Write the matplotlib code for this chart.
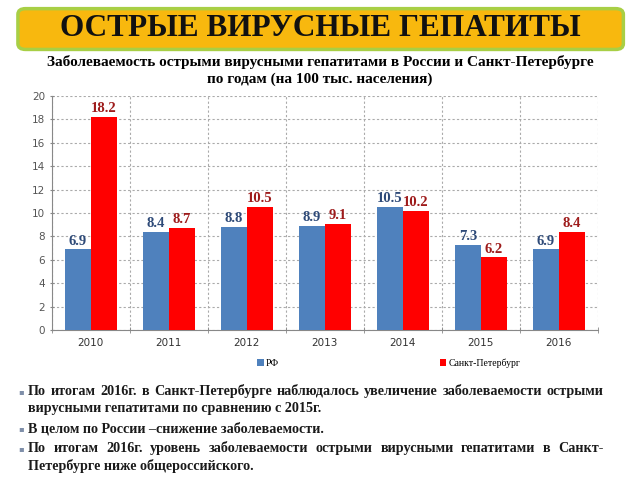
import matplotlib.pyplot as plt
import numpy as np
from matplotlib.patches import FancyBboxPatch

years = ["2010", "2011", "2012", "2013", "2014", "2015", "2016"]
rf = [6.9, 8.4, 8.8, 8.9, 10.5, 7.3, 6.9]
spb = [18.2, 8.7, 10.5, 9.1, 10.2, 6.2, 8.4]
labels = ["РФ", "Санкт-Петербург"]

title = "ОСТРЫЕ ВИРУСНЫЕ ГЕПАТИТЫ"
subtitle = ("Заболеваемость острыми вирусными гепатитами в России и Санкт-Петербурге\n"
            "по годам (на 100 тыс. населения)")
bullets = [
    ("По итогам 2016г. в Санкт-Петербурге наблюдалось увеличение заболеваемости острыми",
     "вирусными гепатитами по сравнению с 2015г."),
    ("В целом по России –снижение заболеваемости.",),
    ("По итогам 2016г. уровень заболеваемости острыми вирусными гепатитами в Санкт-",
     "Петербурге ниже общероссийского."),
]

blue = "#4F81BD"
red = "#FF0000"
serif = "Liberation Serif"

fig = plt.figure(figsize=(6.4, 4.8), dpi=100)

# title box
box = FancyBboxPatch((0.028, 0.897), 0.946, 0.085, boxstyle="round,pad=0,rounding_size=0.012",
                     transform=fig.transFigure, facecolor="#F8B80E", edgecolor="#A8CF45",
                     linewidth=2.5)
fig.patches.append(box)
fig.text(0.5, 0.94, title, ha="center", va="center", fontsize=22.5, fontweight="bold",
         family=serif, color="#111111")
fig.text(0.5, 0.853, subtitle, ha="center", va="center", fontsize=11, fontweight="bold",
         family=serif, linespacing=1.35)

ax = fig.add_axes([0.081, 0.3125, 0.853, 0.4875])
x = np.arange(len(years))
w = 1 / 3
ax.bar(x - w / 2, rf, w, color=blue, label=labels[0], zorder=3)
ax.bar(x + w / 2, spb, w, color=red, label=labels[1], zorder=3)

for xi, v in zip(x, rf):
    ax.text(xi - w / 2, v + 0.15, f"{v:.1f}", ha="center", va="bottom", fontsize=10.5,
            fontweight="bold", family=serif, color="#2E4A78")
for xi, v in zip(x, spb):
    ax.text(xi + w / 2, v + 0.15, f"{v:.1f}", ha="center", va="bottom", fontsize=10.5,
            fontweight="bold", family=serif, color="#9E1B1B")

ax.set_xlim(-0.5, len(years) - 0.5)
ax.set_ylim(0, 20)
ax.set_yticks(range(0, 21, 2))
ax.set_xticks(x)
ax.set_xticklabels(years)
ax.set_xticks(np.arange(-0.5, len(years), 1), minor=True)
ax.tick_params(axis="x", which="major", length=0, labelsize=7.5, colors="#333333", pad=6)
ax.tick_params(axis="x", which="minor", length=4, direction="inout", color="#888888")
ax.tick_params(axis="y", length=3, direction="inout", labelsize=7.5, colors="#555555",
               color="#888888")
ax.grid(axis="y", linestyle=(0, (2, 2)), color="#AAAAAA", linewidth=0.8, zorder=0)
ax.grid(axis="x", which="minor", linestyle=(0, (2, 2)), color="#AAAAAA", linewidth=0.8, zorder=0)
for s in ["top", "right"]:
    ax.spines[s].set_visible(False)
for s in ["left", "bottom"]:
    ax.spines[s].set_color("#888888")

ax.legend(loc="upper center", bbox_to_anchor=(0.617, -0.085), ncol=2, frameon=False,
          prop={"family": serif, "size": 7}, handlelength=0.7, handleheight=0.7,
          handletextpad=0.2, columnspacing=16.5)

# bullet text, first lines of wrapped bullets are justified
renderer = fig.canvas.get_renderer()
x0, x1 = 0.044, 0.943
y = 0.185
for b in bullets:
    fig.text(0.029, y, "▪", ha="left", va="center", fontsize=6, color="#7F8FA9")
    for i, line in enumerate(b):
        kw = dict(ha="left", va="center", fontsize=10.2, fontweight="bold",
                  family=serif, color="#1a1a1a")
        if i < len(b) - 1:
            words = line.split()
            ts = [fig.text(x0, y, wd, **kw) for wd in words]
            widths = [t.get_window_extent(renderer).width / fig.bbox.width for t in ts]
            gap = (x1 - x0 - sum(widths)) / (len(words) - 1)
            pos = x0
            for t, wdt in zip(ts, widths):
                t.set_x(pos)
                pos += wdt + gap
        else:
            fig.text(x0, y, line, **kw)
        y -= 0.037
    y -= 0.004

fig.savefig("out.png", dpi=100)
